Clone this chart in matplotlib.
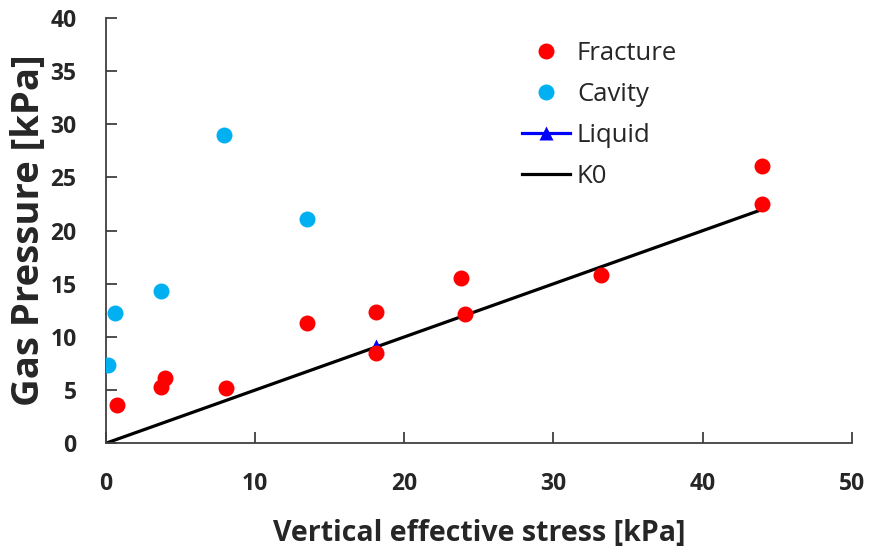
import matplotlib
matplotlib.use("Agg")
import matplotlib.pyplot as plt
from matplotlib.lines import Line2D

plt.rcParams['font.family'] = ['Open Sans', 'DejaVu Sans']

# Data
fracture_x = [0.74, 3.7, 3.97, 8.04, 13.5, 18.08, 18.08, 23.8, 24.07, 33.2, 44.0, 44.0]
fracture_y = [3.6, 5.33, 6.1, 5.2, 11.35, 12.33, 8.47, 15.5, 12.2, 15.85, 26.1, 22.5]
cavity_x = [0.13, 0.62, 3.7, 7.92, 13.5]
cavity_y = [7.4, 12.3, 14.3, 28.95, 21.1]
liquid_x = [18.08]
liquid_y = [9.1]
k0_x = [0, 44]
k0_y = [0, 22]
xticks = [0, 10, 20, 30, 40, 50]
yticks = [0, 5, 10, 15, 20, 25, 30, 35, 40]

fig = plt.figure(figsize=(8.7, 5.48), dpi=100)
ax = fig.add_axes([105.7/870, 1-443.3/548, (852-105.7)/870, (443.3-18)/548])

ax.plot(k0_x, k0_y, color='black', lw=2.3, label='K0', zorder=2, solid_capstyle='butt')
ax.plot(liquid_x, liquid_y, '^', color='#0000FF', ms=11, mec='none', lw=2, label='Liquid', zorder=2.5)
ax.plot(fracture_x, fracture_y, 'o', color='#FF0000', ms=11.5, mec='none', label='Fracture', zorder=3)
ax.plot(cavity_x, cavity_y, 'o', color='#00B0F0', ms=11.5, mec='none', label='Cavity', zorder=3)

ax.set_xlim(0, 50)
ax.set_ylim(0, 40)
ax.set_xticks(xticks)
ax.set_yticks(yticks)
for s in ['top', 'right']:
    ax.spines[s].set_visible(False)
for s in ['left', 'bottom']:
    ax.spines[s].set_linewidth(1.3)
    ax.spines[s].set_color('#404040')
ax.tick_params(axis='both', direction='in', length=8, width=1.3, color='#404040',
               labelsize=16.5, pad=21)
for lbl in ax.get_xticklabels() + ax.get_yticklabels():
    lbl.set_fontweight('bold')
    lbl.set_color('#262626')

ax.set_xlabel('Vertical effective stress [kPa]', fontsize=20.5, fontweight='bold', color='#262626', labelpad=16)
ax.set_ylabel('Gas Pressure [kPa]', fontsize=27.5, fontweight='bold', color='#262626', labelpad=2)

handles = [
    Line2D([], [], marker='o', ls='none', color='#FF0000', ms=11.5, mec='none'),
    Line2D([], [], marker='o', ls='none', color='#00B0F0', ms=11.5, mec='none'),
    Line2D([], [], marker='^', ls='-', color='#0000FF', lw=2.3, ms=10, mec='none'),
    Line2D([], [], ls='-', color='black', lw=2.3),
]
leg = ax.legend(handles, ['Fracture', 'Cavity', 'Liquid', 'K0'], loc='upper left',
                bbox_to_anchor=(511.7/870, 1-31/548), bbox_transform=fig.transFigure,
                frameon=False, fontsize=18.5, handlelength=1.87, handletextpad=0.27,
                labelspacing=0.62, borderaxespad=0)
for t in leg.get_texts():
    t.set_color('#262626')

fig.savefig('out.png', dpi=100)
